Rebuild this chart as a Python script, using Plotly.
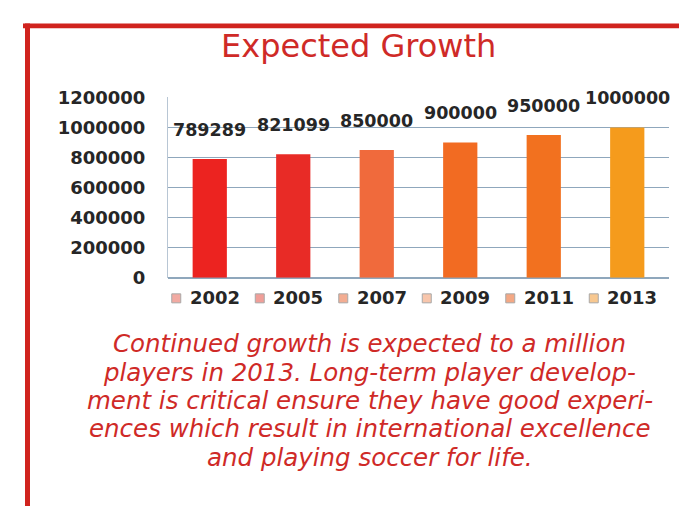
import plotly.graph_objects as go

years = ["2002", "2005", "2007", "2009", "2011", "2013"]
players = [789289, 821099, 850000, 900000, 950000, 1000000]
bar_colors = ["#ec2320", "#e82b26", "#f06a3c", "#f26b22", "#f2711f", "#f59b1c"]
legend_colors = ["#f2aaa2", "#f09e98", "#f3ad92", "#f8c6ac", "#f4a884", "#f8c890"]
y_ticks = [0, 200000, 400000, 600000, 800000, 1000000, 1200000]

title_text = "Expected Growth"
caption_lines = [
    "Continued growth is expected to a million",
    "players in 2013. Long-term player develop-",
    "ment is critical ensure they have good experi-",
    "ences which result in international excellence",
    "and playing soccer for life.",
]

W, H = 679, 516
RED = "#cf2a27"
DARK = "#262626"
LEG_Y = 1 - 299 / H

fig = go.Figure()
shapes = [
    dict(type="rect", xref="paper", yref="paper", x0=23 / W, x1=1.0,
         y0=1 - 18 / H, y1=1 - 13 / H, fillcolor="#d0231e", line=dict(width=0)),
    dict(type="rect", xref="paper", yref="paper", x0=25 / W, x1=30 / W,
         y0=0, y1=1 - 13 / H, fillcolor="#d0231e", line=dict(width=0)),
]
for i, (yr, val, col, lc) in enumerate(zip(years, players, bar_colors, legend_colors)):
    fig.add_trace(go.Bar(
        x=[yr], y=[val], name=yr, marker=dict(color=col, line=dict(width=0)),
        width=0.41, hoverinfo="x+y", showlegend=False,
    ))
    # value label above each bar
    fig.add_annotation(
        x=i, y=val, text=str(val), showarrow=False, yanchor="bottom", yshift=17,
        font=dict(family="DejaVu Sans", size=17.5, color=DARK, weight="bold"),
    )
    # legend entry below the axis: swatch + year
    shapes.append(dict(
        type="rect", xref="x", yref="paper", xsizemode="pixel", ysizemode="pixel",
        xanchor=i, yanchor=LEG_Y, x0=-38, x1=-29, y0=-5, y1=4,
        fillcolor=lc, line=dict(color="#a8a8a8", width=1),
    ))
    fig.add_annotation(
        x=i, y=LEG_Y, yref="paper", text=yr, showarrow=False,
        xanchor="left", yanchor="middle", xshift=-22,
        font=dict(family="DejaVu Sans", size=18, color=DARK, weight="bold"),
    )

# plot area in pixels: x 168..669, y 90..278
x0, x1 = 168 / W, 669 / W
y0, y1 = 1 - 278 / H, 1 - 90 / H

fig.update_layout(
    width=W, height=H,
    margin=dict(l=0, r=0, t=0, b=0),
    paper_bgcolor="white", plot_bgcolor="white",
    barmode="overlay",
    showlegend=False,
    xaxis=dict(
        domain=[x0, x1], type="category", categoryorder="array", categoryarray=years,
        range=[-0.5, len(years) - 0.5],
        showticklabels=False, showgrid=False,
        zeroline=False, showline=False, ticks="",
    ),
    yaxis=dict(
        domain=[y0, y1], range=[0, 1200000], tickvals=y_ticks,
        ticktext=[str(v) for v in y_ticks],
        showgrid=True, gridcolor="#8fa7bc", gridwidth=1,
        showline=True, linecolor="#b8c6d4", linewidth=1,
        zeroline=True, zerolinecolor="#8fa7bc",
        ticks="", ticklabelstandoff=18,
        tickfont=dict(family="DejaVu Sans", size=18, color=DARK, weight="bold"),
    ),
    shapes=shapes,
)

fig.add_annotation(
    xref="paper", yref="paper", x=358 / W, y=1 - 37 / H, text=title_text,
    showarrow=False, xanchor="center", yanchor="middle",
    font=dict(family="DejaVu Sans", size=32, color=RED),
)

line_y = [347, 376.5, 406, 435.5, 465]
for txt, ly in zip(caption_lines, line_y):
    fig.add_annotation(
        xref="paper", yref="paper", x=370 / W, y=1 - ly / H, text=txt,
        showarrow=False, xanchor="center", yanchor="middle", borderpad=0,
        font=dict(family="DejaVu Sans", size=24.5, color=RED, style="italic"),
    )

fig.write_html("out.html")
